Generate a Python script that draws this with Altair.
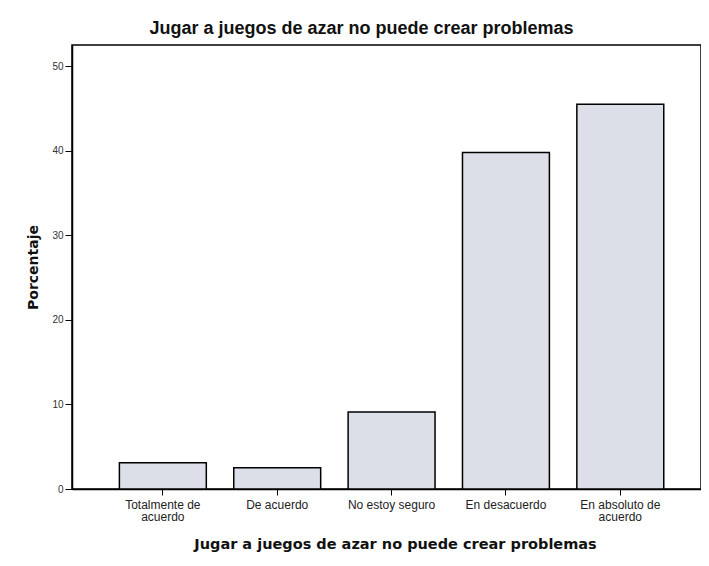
import altair as alt
import pandas as pd

categories = ["Totalmente de acuerdo", "De acuerdo", "No estoy seguro",
              "En desacuerdo", "En absoluto de acuerdo"]
percentages = [3.1, 2.5, 9.1, 39.8, 45.5]
y_ticks = [0, 10, 20, 30, 40, 50]

df = pd.DataFrame({"categoria": categories, "porcentaje": percentages})

FONT = "Liberation Sans"
BOLD_FONT = "DejaVu Sans"

label_expr = ("length(datum.label) > 16 ? "
              "[slice(datum.label, 0, lastindexof(datum.label, ' ')), "
              "slice(datum.label, lastindexof(datum.label, ' ') + 1)] : datum.label")

chart = alt.Chart(df).mark_bar(
    fill="#dcdfe7", stroke="#000000", strokeWidth=1.5
).encode(
    x=alt.X("categoria:N", sort=categories,
            scale=alt.Scale(paddingInner=0.24, paddingOuter=0.37, align=0.56),
            axis=alt.Axis(title="Jugar a juegos de azar no puede crear problemas",
                          labelAngle=0, labelExpr=label_expr,
                          labelFont=FONT, labelFontSize=12, labelColor="#222222",
                          labelPadding=4, labelLineHeight=12.5,
                          tickSize=6, tickColor="#000000", tickWidth=1,
                          domainColor="#000000", domainWidth=1.5,
                          titleFont=BOLD_FONT, titleFontSize=14.5, titleFontWeight="bold",
                          titleColor="#111111", titlePadding=15, titleX=323)),
    y=alt.Y("porcentaje:Q",
            scale=alt.Scale(domain=[0, 52.5], nice=False, zero=True),
            axis=alt.Axis(title="Porcentaje", values=y_ticks, grid=False,
                          labelFont=FONT, labelFontSize=10, labelColor="#333333",
                          labelPadding=2,
                          tickSize=7, tickColor="#000000", tickWidth=1,
                          domainColor="#000000", domainWidth=1.5,
                          titleFont=BOLD_FONT, titleFontSize=14, titleFontWeight="bold",
                          titleColor="#111111", titlePadding=11)),
).properties(
    width=629,
    height=444,
    title=alt.TitleParams("Jugar a juegos de azar no puede crear problemas",
                          font=FONT, fontSize=18, fontWeight="bold",
                          color="#111111", offset=7, dx=-25),
    autosize=alt.AutoSizeParams(type="none"),
    padding={"left": 64, "top": 37, "right": 0, "bottom": 64},
    background="#ffffff",
).configure_view(
    stroke="#000000", strokeWidth=1.5
)

chart.save("out.html", embed_options={"renderer": "svg", "actions": False})
